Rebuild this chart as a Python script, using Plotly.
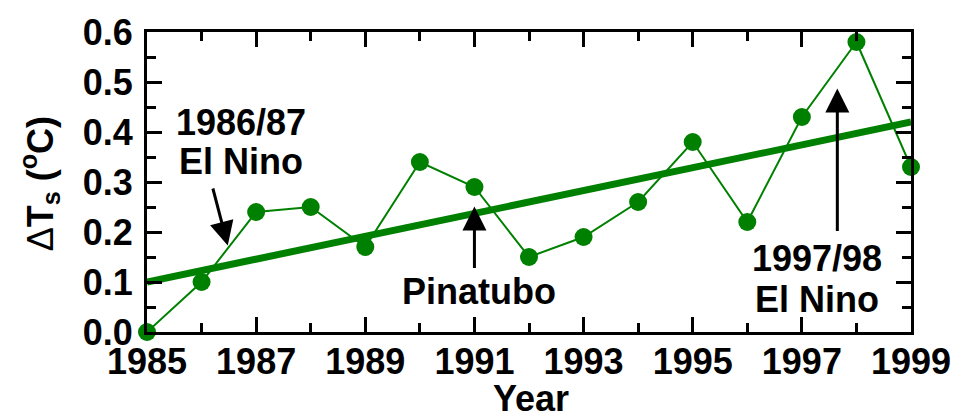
import plotly.graph_objects as go

years = [1985, 1986, 1987, 1988, 1989, 1990, 1991, 1992, 1993, 1994, 1995, 1996, 1997, 1998, 1999]
delta_ts = [0.00, 0.10, 0.24, 0.25, 0.17, 0.34, 0.29, 0.15, 0.19, 0.26, 0.38, 0.22, 0.43, 0.58, 0.33]
trend_years = [1985, 1999]
trend_vals = [0.10, 0.42]

GREEN = "#008000"
FONT = "Liberation Sans"

fig = go.Figure()
fig.add_trace(go.Scatter(x=trend_years, y=trend_vals, mode="lines",
                         line=dict(color=GREEN, width=7), cliponaxis=False,
                         showlegend=False))
fig.add_trace(go.Scatter(x=years, y=delta_ts, mode="lines+markers",
                         line=dict(color=GREEN, width=2),
                         marker=dict(color=GREEN, size=18),
                         cliponaxis=False, showlegend=False))

tickfont = dict(family=FONT, size=36, color="black", weight="bold")

fig.update_xaxes(range=[1985, 1999], tick0=1985, dtick=2, ticks="inside",
                 ticklen=15, tickwidth=3, tickcolor="black",
                 minor=dict(dtick=1, tick0=1985, ticks="inside", ticklen=9, tickwidth=3, tickcolor="black"),
                 showline=True, linewidth=3, linecolor="black", mirror="allticks",
                 showgrid=False, zeroline=False, tickfont=tickfont, ticklabelstandoff=-4)
fig.update_yaxes(range=[0, 0.6], tick0=0, dtick=0.1, tickformat=".1f", ticks="inside",
                 ticklen=15, tickwidth=3, tickcolor="black",
                 minor=dict(dtick=0.05, ticks="inside", ticklen=9, tickwidth=3, tickcolor="black"),
                 showline=True, linewidth=3, linecolor="black", mirror="allticks",
                 showgrid=False, zeroline=False, tickfont=tickfont, ticklabelstandoff=4)

afont = dict(family=FONT, size=36, color="black", weight="bold")
texts = [
    ("1986/87", 1986.72, 0.421),
    ("El Nino", 1986.72, 0.342),
    ("Pinatubo", 1991.08, 0.082),
    ("1997/98", 1997.28, 0.148),
    ("El Nino", 1997.28, 0.066),
]
for t, x, y in texts:
    fig.add_annotation(x=x, y=y, text=t, showarrow=False, font=afont,
                       xanchor="center", yanchor="middle", height=34)

arrows = [
    (1986.48, 0.173, 1986.20, 0.290),
    (1991.0, 0.251, 1991.0, 0.125),
    (1997.65, 0.487, 1997.65, 0.199),
]
for x, y, ax, ay in arrows:
    fig.add_annotation(x=x, y=y, ax=ax, ay=ay, axref="x", ayref="y", text="",
                       showarrow=True, arrowhead=2, arrowsize=1.6, arrowwidth=3,
                       arrowcolor="black", standoff=0, startstandoff=0)

fig.add_annotation(xref="paper", yref="paper", x=-0.1395, y=0.4935,
                   text="\u0394<b>T<sub>s</sub> (<sup>o</sup>C)</b>", textangle=-90,
                   showarrow=False, font=dict(family=FONT, size=36, color="black"),
                   xanchor="center", yanchor="middle")
fig.add_annotation(xref="paper", yref="paper", x=0.503, y=-0.22,
                   text="<b>Year</b>", showarrow=False,
                   font=dict(family=FONT, size=36, color="black"),
                   xanchor="center", yanchor="middle", height=34)

fig.update_layout(width=963, height=416, margin=dict(l=147, r=49, t=24, b=84),
                  plot_bgcolor="white", paper_bgcolor="white")

fig.write_html("out.html")
